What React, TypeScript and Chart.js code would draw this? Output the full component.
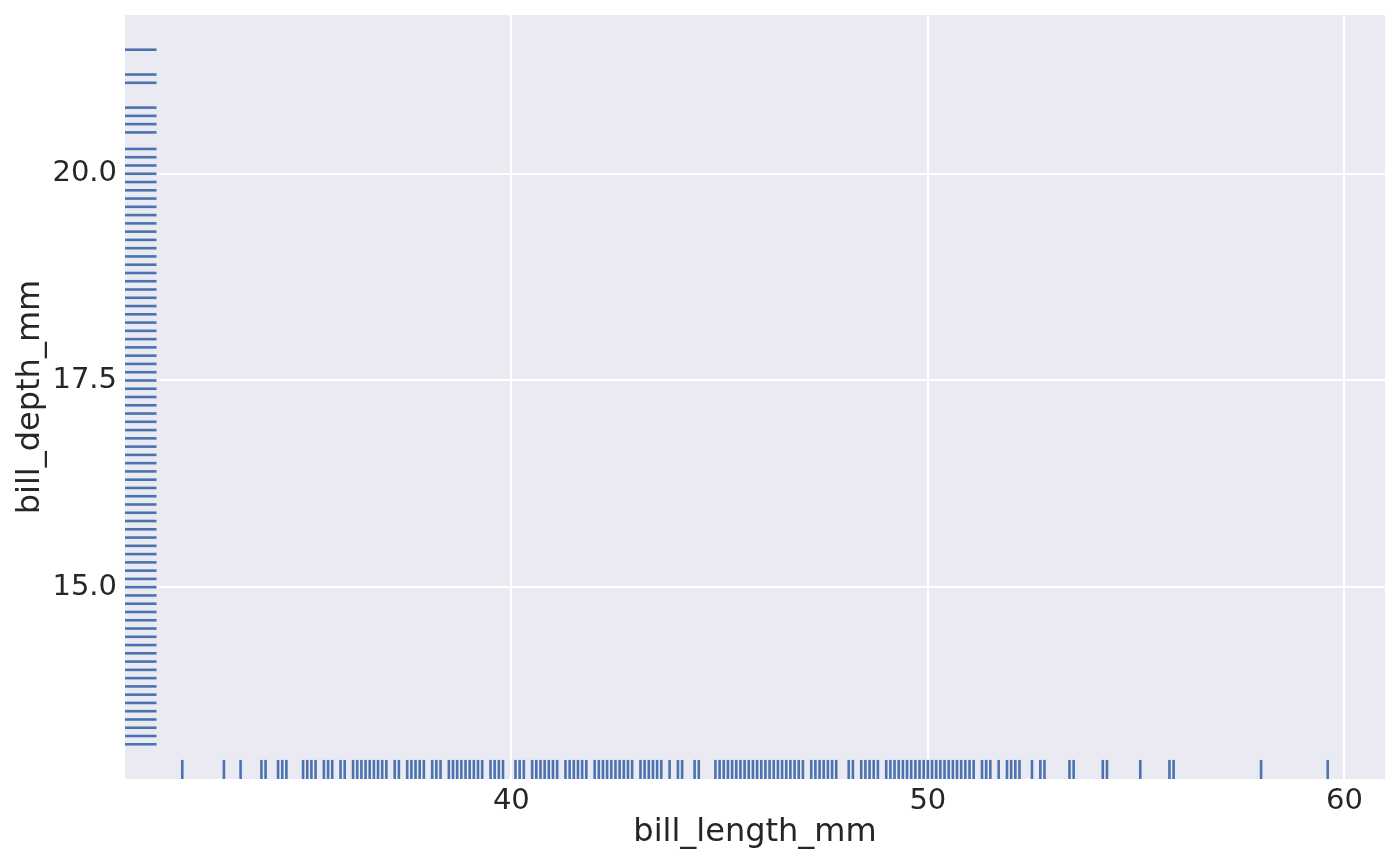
import React, { useEffect, useRef } from "react";
import { Chart, registerables } from "chart.js";

Chart.register(...registerables);

// Distinct bill_length_mm values visible in the bottom rug
const billLength = [
  32.1, 33.1, 33.5, 34.0, 34.1, 34.4, 34.5, 34.6, 35.0, 35.1, 35.2, 35.3, 35.5, 35.6, 35.7, 35.9,
  36.0, 36.2, 36.3, 36.4, 36.5, 36.6, 36.7, 36.8, 36.9, 37.0, 37.2, 37.3, 37.5, 37.6, 37.7, 37.8,
  37.9, 38.1, 38.2, 38.3, 38.5, 38.6, 38.7, 38.8, 38.9, 39.0, 39.1, 39.2, 39.3, 39.5, 39.6, 39.7,
  39.8, 40.1, 40.2, 40.3, 40.5, 40.6, 40.7, 40.8, 40.9, 41.0, 41.1, 41.3, 41.4, 41.5, 41.6, 41.7,
  41.8, 42.0, 42.1, 42.2, 42.3, 42.4, 42.5, 42.6, 42.7, 42.8, 42.9, 43.1, 43.2, 43.3, 43.4, 43.5,
  43.6, 43.8, 44.0, 44.1, 44.4, 44.5, 44.9, 45.0, 45.1, 45.2, 45.3, 45.4, 45.5, 45.6, 45.7, 45.8,
  45.9, 46.0, 46.1, 46.2, 46.3, 46.4, 46.5, 46.6, 46.7, 46.8, 46.9, 47.0, 47.2, 47.3, 47.4, 47.5,
  47.6, 47.7, 47.8, 48.1, 48.2, 48.4, 48.5, 48.6, 48.7, 48.8, 49.0, 49.1, 49.2, 49.3, 49.4, 49.5,
  49.6, 49.7, 49.8, 49.9, 50.0, 50.1, 50.2, 50.3, 50.4, 50.5, 50.6, 50.7, 50.8, 50.9, 51.0, 51.1,
  51.3, 51.4, 51.5, 51.7, 51.9, 52.0, 52.1, 52.2, 52.5, 52.7, 52.8, 53.4, 53.5, 54.2, 54.3, 55.1,
  55.8, 55.9, 58.0, 59.6,
];

// Distinct bill_depth_mm values visible in the left rug
const billDepth = [
  13.1, 13.2, 13.3, 13.4, 13.5, 13.6, 13.7, 13.8, 13.9, 14.0, 14.1, 14.2, 14.3, 14.4, 14.5, 14.6,
  14.7, 14.8, 14.9, 15.0, 15.1, 15.2, 15.3, 15.4, 15.5, 15.6, 15.7, 15.8, 15.9, 16.0, 16.1, 16.2,
  16.3, 16.4, 16.5, 16.6, 16.7, 16.8, 16.9, 17.0, 17.1, 17.2, 17.3, 17.4, 17.5, 17.6, 17.7, 17.8,
  17.9, 18.0, 18.1, 18.2, 18.3, 18.4, 18.5, 18.6, 18.7, 18.8, 18.9, 19.0, 19.1, 19.2, 19.3, 19.4,
  19.5, 19.6, 19.7, 19.8, 19.9, 20.0, 20.1, 20.2, 20.3, 20.5, 20.6, 20.7, 20.8, 21.1, 21.2, 21.5,
];

const xTicks = [40, 50, 60];
const xTickLabels = ["40", "50", "60"];
const yTicks = [15, 17.5, 20];
const yTickLabels = ["15.0", "17.5", "20.0"];

const xLabel = "bill_length_mm";
const yLabel = "bill_depth_mm";

const X_MIN = 30.725;
const X_MAX = 60.975;
const Y_MIN = 12.68;
const Y_MAX = 21.92;
const RUG_FRAC = 0.025;

const RUG_COLOR = "#4c72b0";
const TEXT_COLOR = "#262626";
const FONT = "'DejaVu Sans', sans-serif";

export default function App() {
  const canvasRef = useRef<HTMLCanvasElement | null>(null);

  useEffect(() => {
    const canvas = canvasRef.current;
    if (!canvas) return;

    const bgPlugin = {
      id: "axesBg",
      beforeDraw(chart: any) {
        const { ctx, chartArea } = chart;
        if (!chartArea) return;
        ctx.save();
        ctx.fillStyle = "#eaeaf2";
        ctx.fillRect(chartArea.left, chartArea.top, chartArea.right - chartArea.left, chartArea.bottom - chartArea.top);
        ctx.restore();
      },
    };

    const yRugCenter = Y_MIN + (RUG_FRAC / 2) * (Y_MAX - Y_MIN);
    const xRugCenter = X_MIN + (RUG_FRAC / 2) * (X_MAX - X_MIN);
    const plotW = 1260;
    const plotH = 764;

    const zeroPad = (scale: any) => {
      scale.paddingTop = 0;
      scale.paddingBottom = 0;
      scale.paddingLeft = 0;
      scale.paddingRight = 0;
    };

    const chart = new Chart(canvas, {
      type: "scatter",
      data: {
        datasets: [
          {
            data: billLength.map((v) => ({ x: v, y: yRugCenter })),
            pointStyle: "line",
            rotation: 90,
            pointRadius: (plotH * RUG_FRAC) / 2,
            borderColor: RUG_COLOR,
            backgroundColor: RUG_COLOR,
            borderWidth: 2.6,
            clip: false,
          } as any,
          {
            data: billDepth.map((v) => ({ x: xRugCenter, y: v })),
            pointStyle: "line",
            rotation: 0,
            pointRadius: (plotW * RUG_FRAC) / 2,
            borderColor: RUG_COLOR,
            backgroundColor: RUG_COLOR,
            borderWidth: 2.6,
            clip: false,
          } as any,
        ],
      },
      options: {
        animation: false,
        responsive: true,
        maintainAspectRatio: false,
        devicePixelRatio: 1,
        events: [],
        layout: { autoPadding: false, padding: { top: 15, right: 15, left: 0, bottom: 0 } },
        plugins: {
          legend: { display: false },
          tooltip: { enabled: false },
          title: { display: false },
        },
        scales: {
          x: {
            type: "linear",
            min: X_MIN,
            max: X_MAX,
            afterBuildTicks(scale: any) {
              scale.ticks = xTicks.map((v) => ({ value: v }));
            },
            afterFit(scale: any) {
              scale.height = 87;
              zeroPad(scale);
            },
            ticks: {
              color: TEXT_COLOR,
              font: { family: FONT, size: 29 },
              padding: 5,
              maxRotation: 0,
              autoSkip: false,
              callback: (v: any) => {
                const i = xTicks.indexOf(Number(v));
                return i >= 0 ? xTickLabels[i] : "";
              },
            },
            grid: { color: "#ffffff", lineWidth: 2, drawTicks: false },
            border: { display: false },
            title: {
              display: true,
              text: xLabel,
              color: TEXT_COLOR,
              font: { family: FONT, size: 32 },
              padding: { top: 0, bottom: 14 },
            },
          },
          y: {
            type: "linear",
            min: Y_MIN,
            max: Y_MAX,
            afterBuildTicks(scale: any) {
              scale.ticks = yTicks.map((v) => ({ value: v }));
            },
            afterFit(scale: any) {
              scale.width = 125;
              zeroPad(scale);
            },
            ticks: {
              color: TEXT_COLOR,
              font: { family: FONT, size: 29 },
              padding: 8,
              autoSkip: false,
              callback: (v: any) => {
                const i = yTicks.indexOf(Number(v));
                return i >= 0 ? yTickLabels[i] : "";
              },
            },
            grid: { color: "#ffffff", lineWidth: 2, drawTicks: false },
            border: { display: false },
            title: {
              display: true,
              text: yLabel,
              color: TEXT_COLOR,
              font: { family: FONT, size: 32 },
              padding: { top: 11, bottom: 0 },
            },
          },
        },
      },
      plugins: [bgPlugin],
    });

    return () => {
      chart.destroy();
    };
  }, []);

  return (
    <div
      style={{
        position: "fixed",
        left: 0,
        top: 0,
        width: 1400,
        height: 866,
        background: "#ffffff",
      }}
    >
      <canvas ref={canvasRef} />
    </div>
  );
}
